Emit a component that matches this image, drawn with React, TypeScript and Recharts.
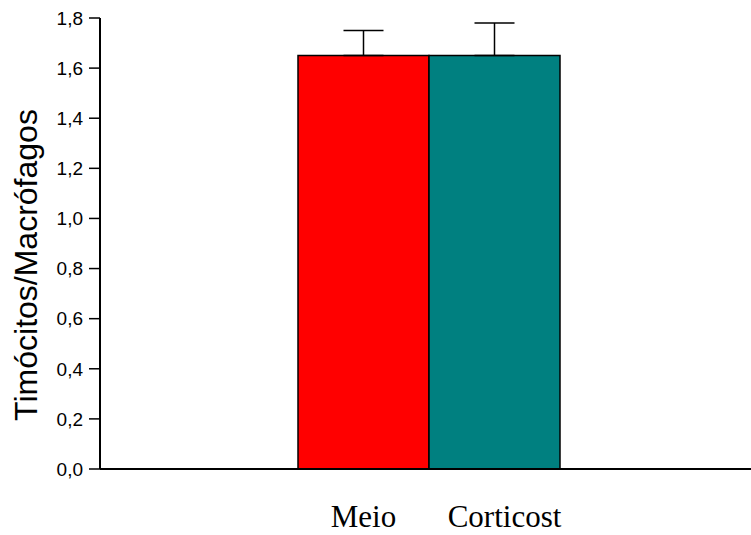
import React from 'react';
import { BarChart, Bar, XAxis, YAxis, ErrorBar, Cell } from 'recharts';

// Thymocyte / macrophage ratio per culture condition
const groups = ['Meio', 'Corticost'];
const ratios = [1.65, 1.65];
const errorsUp = [0.1, 0.13];
const barColors = ['#FF0000', '#008080'];
const yTicks = [0, 0.2, 0.4, 0.6, 0.8, 1.0, 1.2, 1.4, 1.6, 1.8];
const yTitle = 'Timócitos/Macrófagos';

const data = groups.map((g, i) => ({
  group: g,
  ratio: ratios[i],
  err: [0, errorsUp[i]],
}));

const SANS = "'Liberation Sans', Arial, sans-serif";
const SERIF = "'Liberation Serif', 'Times New Roman', serif";

const GroupTick = (props: any) => {
  const { x, y, payload, index } = props;
  return (
    <text
      x={x}
      y={y}
      dy={50}
      dx={index === 1 ? 10 : 0}
      textAnchor="middle"
      fontFamily={SERIF}
      fontSize={31}
      fill="#000"
    >
      {payload.value}
    </text>
  );
};

const YTitle = () => (
  <text
    x={37}
    y={265}
    transform="rotate(-90 37 265)"
    textAnchor="middle"
    fontFamily={SANS}
    fontSize={32}
    fill="#000"
  >
    {yTitle}
  </text>
);

export default function App() {
  return (
    <div style={{ position: 'absolute', left: 0, top: 0, background: '#fff' }}>
      <BarChart
        width={751}
        height={535}
        data={data}
        margin={{ top: 18, right: 0, bottom: 0, left: 0 }}
        barCategoryGap={0}
      >
        <XAxis
          dataKey="group"
          height={66}
          padding={{ left: 198, right: 191 }}
          axisLine={{ stroke: '#000', strokeWidth: 2 }}
          tickLine={false}
          tick={<GroupTick />}
          interval={0}
        />
        <YAxis
          width={100}
          domain={[0, 1.8]}
          ticks={yTicks}
          tickFormatter={(v: number) => v.toFixed(1).replace('.', ',')}
          axisLine={{ stroke: '#000', strokeWidth: 2 }}
          tickLine={{ stroke: '#000', strokeWidth: 1.5 }}
          tickSize={11}
          tickMargin={6}
          tick={{ fill: '#000', fontSize: 19, fontFamily: SANS }}
          label={{ content: () => <YTitle /> }}
        />
        <Bar dataKey="ratio" isAnimationActive={false} stroke="#000" strokeWidth={1.5}>
          {data.map((d, i) => (
            <Cell key={d.group} fill={barColors[i]} />
          ))}
          <ErrorBar
            dataKey="err"
            direction="y"
            width={20}
            stroke="#000"
            strokeWidth={1.5}
            isAnimationActive={false}
          />
        </Bar>
      </BarChart>
    </div>
  );
}
